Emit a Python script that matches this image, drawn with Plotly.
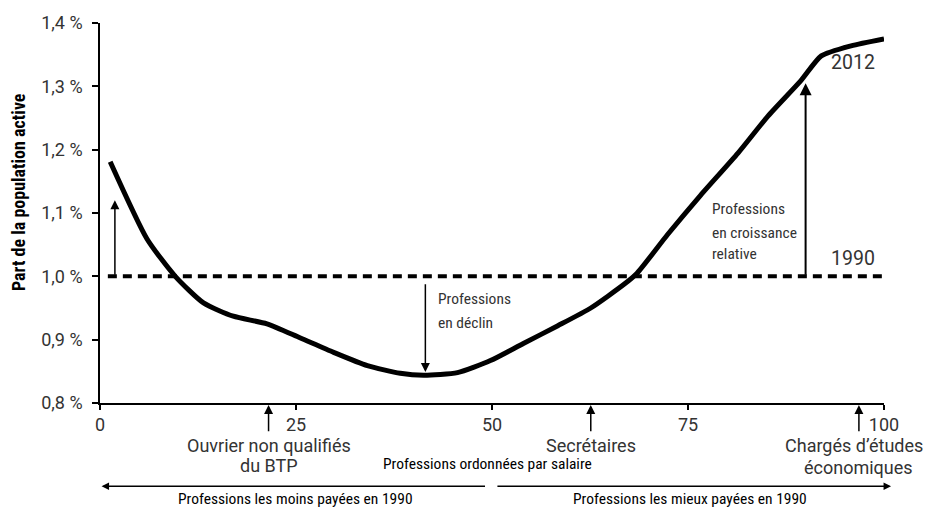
import plotly.graph_objects as go

# Data
x_rank = [1.3, 6.0, 9.6, 13.2, 17.0, 21.3, 25.5, 29.8, 34.1, 38.3, 41.3, 45.6, 49.8,
          54.0, 58.4, 62.6, 66.8, 68.5, 72.4, 76.6, 81.4, 85.2, 89.4, 92.0, 95.8, 100.0]
share_2012 = [1.181, 1.059, 1.000, 0.958, 0.937, 0.925, 0.903, 0.880, 0.859, 0.847, 0.844,
              0.848, 0.867, 0.894, 0.922, 0.950, 0.987, 1.005, 1.066, 1.128, 1.195, 1.253,
              1.309, 1.348, 1.364, 1.375]
baseline_x = [1.0, 100.0]
baseline_y = [1.0, 1.0]

y_tickvals = [0.8, 0.9, 1.0, 1.1, 1.2, 1.3, 1.4]
y_ticktext = ["0,8 %", "0,9 %", "1,0 %", "1,1 %", "1,2 %", "1,3 %", "1,4 %"]
x_tickvals = [0, 25, 50, 75, 100]

NARROW = "Liberation Sans Narrow, Roboto Condensed, Arial Narrow, sans-serif"
REG = "Roboto, Liberation Sans, sans-serif"
TXT = "#333333"

fig = go.Figure()
fig.add_trace(go.Scatter(x=baseline_x, y=baseline_y, mode="lines",
                         line=dict(color="black", width=4, dash="9px,6px"),
                         hoverinfo="skip", showlegend=False))
fig.add_trace(go.Scatter(x=x_rank, y=share_2012, mode="lines",
                         line=dict(color="black", width=5, shape="spline", smoothing=0.6),
                         showlegend=False))

ann = []
def arrow(x, y, ax, ay, width=1.5):
    ann.append(dict(x=x, y=y, ax=ax, ay=ay, xref="x", yref="y", axref="x", ayref="y",
                    text="", showarrow=True, arrowhead=2, arrowsize=1.2,
                    arrowwidth=width, arrowcolor="black"))

arrow(1.9, 1.12, 1.9, 1.0)
arrow(90.0, 1.305, 90.0, 1.0, 2)
arrow(41.5, 0.849, 41.5, 0.99)

def text(x, y, s, font, size, xanchor="left", yanchor="middle", xref="x", yref="y", color=TXT, angle=0):
    ann.append(dict(x=x, y=y, xref=xref, yref=yref, text=s, showarrow=False,
                    xanchor=xanchor, yanchor=yanchor, textangle=angle,
                    font=dict(family=font, size=size, color=color)))

text(42.9, 0.964, "Professions", NARROW, 15.5)
text(42.9, 0.926, "en déclin", NARROW, 15.5)
text(77.8, 1.106, "Professions", NARROW, 15.5)
text(77.8, 1.069, "en croissance", NARROW, 15.5)
text(77.8, 1.035, "relative", NARROW, 15.5)
text(93.0, 1.337, "2012", REG, 19.5)
text(93.0, 1.028, "1990", REG, 19.5)

# below-axis annotations (domain y; 384 px plot height)
def py(pix):
    return -(pix - 403) / 384.0

YD = "y domain"

def up_arrow(x, tail_pix):
    ann.append(dict(x=x, y=py(405), xref="x", yref=YD, ax=x, ay=py(tail_pix),
                    axref="x", ayref=YD, text="", showarrow=True, arrowhead=2,
                    arrowsize=1.2, arrowwidth=1.5, arrowcolor="black"))

up_arrow(21.5, 433)
up_arrow(62.6, 433)
up_arrow(96.8, 433)

text(21.5, py(446), "Ouvrier non qualifiés", REG, 18, xanchor="center", yref=YD)
text(21.5, py(466), "du BTP", REG, 18, xanchor="center", yref=YD)
text(62.6, py(446), "Secrétaires", REG, 18, xanchor="center", yref=YD)
text((924 - 100) / 783.0, py(446), "Chargés d’études", REG, 18, xanchor="right",
     xref="paper", yref=YD)
text(96.8, py(468), "économiques", REG, 18, xanchor="center", yref=YD)
text(49.4, py(465), "Professions ordonnées par salaire", NARROW, 15.5, xanchor="center", yref=YD, color="black")

# horizontal arrows
ann.append(dict(x=0.2, y=py(487), ax=49.3, ay=py(487), xref="x", yref=YD,
                axref="x", ayref=YD, text="", showarrow=True, arrowhead=2,
                arrowsize=1.0, arrowwidth=1.5, arrowcolor="black"))
ann.append(dict(x=100.9, y=py(487), ax=50.5, ay=py(487), xref="x", yref=YD,
                axref="x", ayref=YD, text="", showarrow=True, arrowhead=2,
                arrowsize=1.0, arrowwidth=1.5, arrowcolor="black"))
text(24.9, py(500), "Professions les moins payées en 1990", NARROW, 15.5, xanchor="center", yref=YD, color="black")
text(75.3, py(500), "Professions les mieux payées en 1990", NARROW, 15.5, xanchor="center", yref=YD, color="black")

# y title
ann.append(dict(x=-(100 - 18) / 783.0, y=(403 - 190) / 384.0, xref="paper", yref="paper",
                text="<b>Part de la population active</b>", showarrow=False, textangle=-90,
                xanchor="center", yanchor="middle",
                font=dict(family=NARROW, size=18, color="black")))

fig.update_layout(
    width=926, height=510,
    margin=dict(l=100, r=42, t=19, b=107),
    plot_bgcolor="white", paper_bgcolor="white",
    annotations=ann,
    xaxis=dict(range=[0, 100], tickvals=x_tickvals, showgrid=False, zeroline=False,
               showline=True, linecolor="black", linewidth=1.5,
               ticks="outside", ticklen=5, tickwidth=1.5, tickcolor="black",
               tickfont=dict(family=REG, size=18, color=TXT)),
    yaxis=dict(range=[0.8, 1.4], tickvals=y_tickvals, ticktext=y_ticktext,
               showgrid=False, zeroline=False, showline=True, linecolor="black",
               linewidth=1.5, ticks="outside", ticklen=6, tickwidth=2, tickcolor="black",
               ticklabelstandoff=6,
               tickfont=dict(family=REG, size=18, color=TXT)),
)

fig.write_html("out.html", config={"displayModeBar": False},
               post_script="document.body.style.margin='0px';document.body.style.padding='0px';")
